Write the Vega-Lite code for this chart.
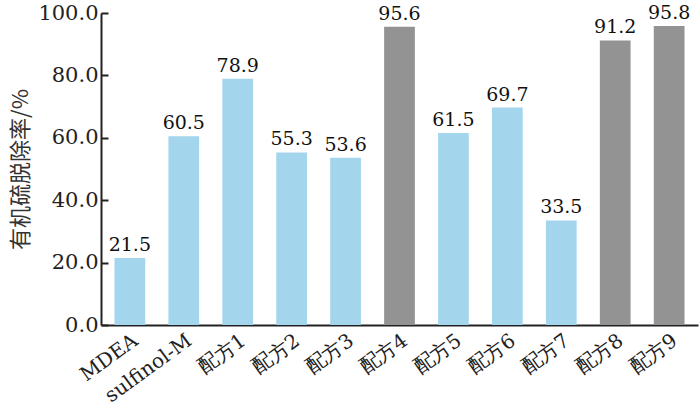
{
  "$schema": "https://vega.github.io/schema/vega-lite/v6.json",
  "autosize": {"type": "none"},
  "width": 597,
  "height": 312,
  "padding": {"left": 101, "top": 13, "right": 2, "bottom": 94},
  "background": "white",
  "data": {"values": [
    {"name": "MDEA", "value": 21.5, "group": "a"},
    {"name": "sulfinol-M", "value": 60.5, "group": "a"},
    {"name": "配方1", "value": 78.9, "group": "a"},
    {"name": "配方2", "value": 55.3, "group": "a"},
    {"name": "配方3", "value": 53.6, "group": "a"},
    {"name": "配方4", "value": 95.6, "group": "b"},
    {"name": "配方5", "value": 61.5, "group": "a"},
    {"name": "配方6", "value": 69.7, "group": "a"},
    {"name": "配方7", "value": 33.5, "group": "a"},
    {"name": "配方8", "value": 91.2, "group": "b"},
    {"name": "配方9", "value": 95.8, "group": "b"}
  ]},
  "config": {
    "view": {"stroke": null},
    "axis": {"labelFont": "DejaVu Serif", "titleFont": "Noto Sans CJK SC", "labelColor": "#222", "domainColor": "#222", "tickColor": "#222", "grid": false}
  },
  "encoding": {
    "x": {"field": "name", "type": "nominal", "sort": null,
      "scale": {"paddingInner": 0.43, "paddingOuter": 0.25},
      "axis": {"title": null, "labelAngle": -36, "labelFontSize": 20, "labelFont": "DejaVu Serif", "ticks": false, "domainWidth": 2, "labelPadding": 5}},
    "y": {"field": "value", "type": "quantitative",
      "scale": {"domain": [0, 100]},
      "axis": {"title": "有机硫脱除率/%", "values": [0, 20, 40, 60, 80, 100], "format": ".1f", "labelFont": "DejaVu Serif", "labelFontSize": 21, "titleFontSize": 22, "titleFontWeight": "normal", "titleColor": "#333", "tickSize": -7, "tickWidth": 2, "domainWidth": 2, "labelPadding": 10, "titlePadding": 5}}
  },
  "layer": [
    {"mark": {"type": "bar"},
     "encoding": {"color": {"field": "group", "type": "nominal", "scale": {"domain": ["a", "b"], "range": ["#a3d5ed", "#939393"]}, "legend": null}}},
    {"mark": {"type": "text", "baseline": "bottom", "dy": -3, "font": "DejaVu Serif", "fontSize": 19, "color": "#111"},
     "encoding": {"text": {"field": "value", "type": "quantitative", "format": ".1f"}}}
  ]
}
